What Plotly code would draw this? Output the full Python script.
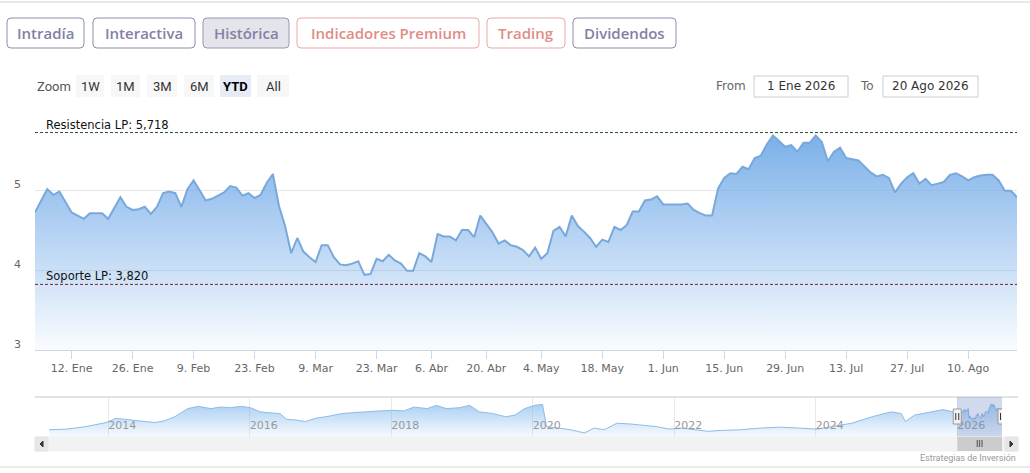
import plotly.graph_objects as go

W, H = 1030, 473

# cotizacion 2026 (YTD), dias de mercado
main_dates = [
    "2026-01-02", "2026-01-05", "2026-01-06", "2026-01-07", "2026-01-08", "2026-01-12", "2026-01-14", "2026-01-15",
    "2026-01-19", "2026-01-20", "2026-01-22", "2026-01-23", "2026-01-26", "2026-01-27", "2026-01-28", "2026-01-29", "2026-01-30",
    "2026-02-02", "2026-02-03", "2026-02-04", "2026-02-05", "2026-02-06", "2026-02-09", "2026-02-11", "2026-02-12",
    "2026-02-16", "2026-02-17", "2026-02-18", "2026-02-19", "2026-02-20", "2026-02-23", "2026-02-24", "2026-02-25", "2026-02-26", "2026-02-27",
    "2026-03-02", "2026-03-03", "2026-03-04", "2026-03-05", "2026-03-06", "2026-03-09", "2026-03-10", "2026-03-11", "2026-03-12", "2026-03-13",
    "2026-03-16", "2026-03-17", "2026-03-18", "2026-03-19", "2026-03-20", "2026-03-23", "2026-03-24", "2026-03-25", "2026-03-26", "2026-03-27",
    "2026-03-30", "2026-03-31",
    "2026-04-01", "2026-04-02", "2026-04-07", "2026-04-08", "2026-04-09", "2026-04-10", "2026-04-13", "2026-04-14", "2026-04-15", "2026-04-16",
    "2026-04-17", "2026-04-20", "2026-04-21", "2026-04-22", "2026-04-23", "2026-04-24", "2026-04-27", "2026-04-28", "2026-04-29", "2026-04-30",
    "2026-05-04", "2026-05-05", "2026-05-06", "2026-05-07", "2026-05-08", "2026-05-11", "2026-05-12", "2026-05-13", "2026-05-14", "2026-05-15",
    "2026-05-18", "2026-05-19", "2026-05-20", "2026-05-21", "2026-05-22", "2026-05-25", "2026-05-26", "2026-05-27", "2026-05-28", "2026-05-29",
    "2026-06-01", "2026-06-02", "2026-06-04", "2026-06-05", "2026-06-08", "2026-06-09", "2026-06-10", "2026-06-11", "2026-06-12", "2026-06-15",
    "2026-06-16", "2026-06-17", "2026-06-18", "2026-06-19", "2026-06-22", "2026-06-23", "2026-06-24", "2026-06-25", "2026-06-26", "2026-06-29", "2026-06-30",
    "2026-07-01", "2026-07-02", "2026-07-03", "2026-07-06", "2026-07-07", "2026-07-08", "2026-07-09", "2026-07-10", "2026-07-13", "2026-07-15",
    "2026-07-16", "2026-07-17", "2026-07-20", "2026-07-21", "2026-07-22", "2026-07-23", "2026-07-24", "2026-07-27", "2026-07-28", "2026-07-29",
    "2026-07-30", "2026-07-31",
    "2026-08-03", "2026-08-04", "2026-08-05", "2026-08-06", "2026-08-07", "2026-08-10", "2026-08-11", "2026-08-12", "2026-08-13", "2026-08-14",
    "2026-08-17", "2026-08-18", "2026-08-19", "2026-08-20",
]
main_prices = [
    4.72, 4.87, 5.01, 4.94, 4.98, 4.72, 4.64, 4.71,
    4.71, 4.64, 4.91, 4.79, 4.75, 4.76, 4.79, 4.70, 4.79,
    4.96, 4.98, 4.96, 4.79, 5.01, 5.12, 4.87, 4.89,
    4.97, 5.05, 5.03, 4.93, 4.96, 4.90, 4.94, 5.09, 5.20, 4.80,
    4.55, 4.21, 4.40, 4.23, 4.16, 4.10, 4.31, 4.31, 4.16, 4.07,
    4.06, 4.08, 4.11, 3.94, 3.95, 4.14, 4.11, 4.19, 4.12, 4.08,
    3.99, 3.99,
    4.21, 4.17, 4.10, 4.45, 4.42, 4.42, 4.37, 4.50, 4.50, 4.41,
    4.68, 4.57, 4.47, 4.33, 4.37, 4.31, 4.29, 4.25, 4.17, 4.28,
    4.14, 4.21, 4.49, 4.54, 4.42, 4.68, 4.55, 4.48, 4.40, 4.29,
    4.38, 4.35, 4.54, 4.50, 4.56, 4.73, 4.73, 4.87, 4.88, 4.92,
    4.82, 4.82, 4.82, 4.83, 4.75, 4.71, 4.68, 4.68, 5.02, 5.15,
    5.21, 5.20, 5.29, 5.26, 5.40, 5.43, 5.57, 5.68, 5.61, 5.54, 5.56,
    5.48, 5.59, 5.59, 5.68, 5.60, 5.36, 5.48, 5.53, 5.40, 5.37,
    5.29, 5.22, 5.17, 5.19, 5.15, 4.97, 5.08, 5.16, 5.21, 5.08,
    5.14, 5.06,
    5.08, 5.10, 5.19, 5.21, 5.17, 5.12, 5.16, 5.18, 5.19, 5.19,
    5.12, 4.99, 4.99, 4.91,
]

# historico para el navegador (2013-2025)
hist_dates = [
    "2013-03-01", "2013-06-01", "2013-09-10", "2013-12-20", "2014-02-10", "2014-04-20", "2014-06-25", "2014-09-01",
    "2014-10-20", "2014-12-10", "2015-02-15", "2015-04-10", "2015-06-15", "2015-08-05", "2015-09-25", "2015-11-15",
    "2016-01-05", "2016-02-25", "2016-04-15", "2016-06-05", "2016-07-10", "2016-08-25", "2016-10-15", "2016-12-05",
    "2017-02-15", "2017-04-20", "2017-06-28", "2017-09-01", "2017-11-10", "2018-01-02", "2018-03-08", "2018-04-28",
    "2018-07-05", "2018-08-22", "2018-10-12", "2018-12-20", "2019-02-10", "2019-04-01", "2019-06-08", "2019-08-15",
    "2019-10-02", "2019-11-20", "2020-01-12", "2020-02-21", "2020-03-12", "2020-05-10", "2020-07-15", "2020-09-25",
    "2020-11-12", "2021-01-05", "2021-03-10", "2021-05-15", "2021-07-22", "2021-09-28", "2021-12-05", "2022-02-10",
    "2022-04-18", "2022-06-25", "2022-09-01", "2022-12-10", "2023-03-22", "2023-07-01", "2023-10-10", "2024-01-05",
    "2024-03-28", "2024-07-05", "2024-10-18", "2025-01-25", "2025-03-18", "2025-04-08", "2025-05-25", "2025-08-15",
    "2025-10-20",
]
hist_prices = [
    2.90, 2.97, 3.25, 3.67, 4.13, 3.95, 3.78, 3.67,
    3.88, 4.30, 5.18, 5.42, 5.18, 5.35, 5.28, 5.42,
    5.28, 4.83, 4.72, 4.65, 4.02, 3.95, 3.78, 4.13,
    4.37, 4.65, 4.76, 4.83, 4.93, 5.00, 4.93, 5.35,
    5.18, 5.53, 5.18, 5.28, 5.53, 4.83, 4.65, 4.30,
    4.48, 5.18, 5.53, 5.63, 3.25, 3.08, 2.90, 2.55,
    3.08, 2.90, 3.60, 3.53, 3.43, 3.25, 2.97, 3.08,
    2.90, 2.73, 2.83, 2.90, 3.08, 3.18, 3.08, 2.97,
    3.25, 3.60, 4.30, 4.83, 4.65, 3.78, 4.48, 4.83,
    5.07,
]

resistencia = 5.718
soporte = 3.820

tick_dates = ["2026-01-12", "2026-01-26", "2026-02-09", "2026-02-23", "2026-03-09", "2026-03-23", "2026-04-07", "2026-04-20",
              "2026-05-04", "2026-05-18", "2026-06-01", "2026-06-15", "2026-06-29", "2026-07-13", "2026-07-27", "2026-08-10"]
tick_labels = ["12. Ene", "26. Ene", "9. Feb", "23. Feb", "9. Mar", "23. Mar", "6. Abr", "20. Abr",
               "4. May", "18. May", "1. Jun", "15. Jun", "29. Jun", "13. Jul", "27. Jul", "10. Ago"]
year_ticks = ["2014-01-01", "2016-01-01", "2018-01-01", "2020-01-01", "2022-01-01", "2024-01-01", "2026-01-01"]
year_labels = ["2014", "2016", "2018", "2020", "2022", "2024", "2026"]
holidays = ["2026-01-01", "2026-04-03", "2026-04-06", "2026-05-01"]


def X(px):
    return px / W


def Y(py):
    return 1 - py / H


def rounded(x0, y0, x1, y1, r=4):
    rx, ry = r / W, r / H
    a, b, c, d = X(x0), Y(y0), X(x1), Y(y1)
    return (f"M{a+rx},{b} L{c-rx},{b} Q{c},{b} {c},{b-ry} L{c},{d+ry} Q{c},{d} {c-rx},{d} "
            f"L{a+rx},{d} Q{a},{d} {a},{d+ry} L{a},{b-ry} Q{a},{b} {a+rx},{b} Z")


def label(text, px, py, font, xanchor="center"):
    return dict(text=text, x=X(px), y=Y(py), xref="paper", yref="paper", xanchor=xanchor, yanchor="middle",
                showarrow=False, font=font)


fig = go.Figure()

fig.add_trace(go.Scatter(
    x=main_dates, y=main_prices, mode="lines", fill="tozeroy",
    line=dict(color="#78a8dc", width=2),
    fillgradient=dict(type="vertical", start=3, stop=5.7,
                      colorscale=[[0, "rgba(120,174,233,0.04)"], [1, "rgba(120,174,233,0.98)"]]),
    hoverinfo="skip", xaxis="x", yaxis="y"))

fig.add_trace(go.Scatter(
    x=hist_dates + main_dates, y=hist_prices + main_prices, mode="lines", fill="tozeroy",
    line=dict(color="#8fbbe8", width=1),
    fillgradient=dict(type="vertical", start=2.12, stop=5.7,
                      colorscale=[[0, "rgba(124,181,236,0.05)"], [1, "rgba(124,181,236,0.65)"]]),
    hoverinfo="skip", xaxis="x2", yaxis="y2"))

shapes = []
annotations = []

# lineas de separacion de la pagina
shapes.append(dict(type="line", xref="paper", yref="paper", x0=0, x1=1, y0=Y(2), y1=Y(2), line=dict(color="#d0d0d0", width=1)))
shapes.append(dict(type="line", xref="paper", yref="paper", x0=0, x1=1, y0=Y(467), y1=Y(467), line=dict(color="#d6d6d6", width=1)))

# pestañas
purple, salmon = "#8480a5", "#e08d87"
tabs = [("Intradía", 7, 84, purple, "#908cab", "white"),
        ("Interactiva", 93, 195, purple, "#908cab", "white"),
        ("Histórica", 203, 289, purple, "#9a97b2", "#e4e4eb"),
        ("Indicadores Premium", 297, 479, salmon, "#e8a9a5", "white"),
        ("Trading", 487, 565, salmon, "#e8a9a5", "white"),
        ("Dividendos", 573, 676, purple, "#908cab", "white")]
for txt, x0, x1, tc, bc, bg in tabs:
    shapes.append(dict(type="path", path=rounded(x0, 18, x1, 48), xref="paper", yref="paper",
                       line=dict(color=bc, width=1), fillcolor=bg))
    annotations.append(label(txt, (x0 + x1) / 2, 33, dict(family="Open Sans", size=15, color=tc, weight=600)))

# selector de rango
narrow = "Liberation Sans Narrow, Roboto"
annotations.append(label("Zoom", 35, 86, dict(family=narrow, size=13, color="#555"), xanchor="left"))
zoom_btns = [("1W", 76, 104), ("1M", 111, 140), ("3M", 147, 177), ("6M", 184, 214), ("YTD", 220, 251), ("All", 257, 289)]
for txt, x0, x1 in zoom_btns:
    sel = txt == "YTD"
    shapes.append(dict(type="rect", xref="paper", yref="paper", x0=X(x0), x1=X(x1), y0=Y(97), y1=Y(75),
                       line=dict(width=0), fillcolor="#e6ebf5" if sel else "#f7f7f7"))
    annotations.append(label(f"<b>{txt}</b>" if sel else txt, (x0 + x1) / 2, 86,
                             dict(family=narrow, size=13, color="#000" if sel else "#333")))

annotations.append(label("From", 731, 86, dict(family="DejaVu Sans", size=12, color="#666")))
annotations.append(label("To", 867, 86, dict(family="DejaVu Sans", size=12, color="#666")))
for txt, x0, x1 in [("1 Ene 2026", 754, 848), ("20 Ago 2026", 883, 978)]:
    shapes.append(dict(type="rect", xref="paper", yref="paper", x0=X(x0), x1=X(x1), y0=Y(97), y1=Y(76),
                       line=dict(color="#cccccc", width=1), fillcolor="white"))
    annotations.append(label(txt, (x0 + x1) / 2, 86.5, dict(family="DejaVu Sans", size=12, color="#333")))

# soporte y resistencia
for lvl, col, txt in [(resistencia, "#24502c", "Resistencia LP: 5,718"), (soporte, "#7b1f35", "Soporte LP: 3,820")]:
    shapes.append(dict(type="line", xref="x domain", yref="y", x0=0, x1=1, y0=lvl, y1=lvl,
                       line=dict(color=col, width=1, dash="3px,2px")))
    annotations.append(dict(text=txt, x=X(44), xanchor="left", xref="paper", y=lvl, yref="y", yanchor="bottom",
                            yshift=-1, showarrow=False, font=dict(family="DejaVu Sans", size=11.5, color="#111")))

for v in [3, 4, 5]:
    annotations.append(dict(text=str(v), x=X(17), xref="paper", xanchor="center", y=v, yref="y", yanchor="middle",
                            yshift=6, showarrow=False, font=dict(family="DejaVu Sans", size=11, color="#666")))

# navegador: zona seleccionada y asas
shapes.append(dict(type="line", xref="paper", yref="paper", x0=X(35), x1=X(1018), y0=Y(397), y1=Y(397),
                   line=dict(color="#c8c8cc", width=1)))
shapes.append(dict(type="rect", xref="x2", yref="y2 domain", x0="2026-01-01", x1="2026-08-20", y0=0, y1=1,
                   line=dict(width=0), fillcolor="rgba(102,133,194,0.3)"))
for d in ["2026-01-01", "2026-08-20"]:
    shapes.append(dict(type="rect", xref="x2", xsizemode="pixel", xanchor=d, x0=-4, x1=4, yref="paper",
                       y0=Y(424), y1=Y(409), line=dict(color="#999", width=1), fillcolor="#f2f2f2"))
    for dx in (-1.5, 1.5):
        shapes.append(dict(type="line", xref="x2", xsizemode="pixel", xanchor=d, x0=dx, x1=dx, yref="paper",
                           y0=Y(420), y1=Y(413), line=dict(color="#333", width=1)))

# barra de desplazamiento
shapes.append(dict(type="rect", xref="paper", yref="paper", x0=X(35), x1=X(1018), y0=Y(451), y1=Y(437),
                   line=dict(color="#f2f2f2", width=1), fillcolor="#f2f2f2"))
shapes.append(dict(type="rect", xref="x2", yref="paper", x0="2026-01-01", x1="2026-08-20", y0=Y(451), y1=Y(437),
                   line=dict(width=0), fillcolor="#cccccc"))
for x0, x1 in [(35, 48), (1005, 1018)]:
    shapes.append(dict(type="rect", xref="paper", yref="paper", x0=X(x0), x1=X(x1), y0=Y(451), y1=Y(437),
                       line=dict(color="#e6e6e6", width=1), fillcolor="#e6e6e6"))
shapes.append(dict(type="path", xref="paper", yref="paper",
                   path=f"M{X(43)},{Y(441)} L{X(40)},{Y(444)} L{X(43)},{Y(447)} Z", fillcolor="#333", line=dict(color="#333", width=1)))
shapes.append(dict(type="path", xref="paper", yref="paper",
                   path=f"M{X(1010)},{Y(441)} L{X(1013)},{Y(444)} L{X(1010)},{Y(447)} Z", fillcolor="#333", line=dict(color="#333", width=1)))
annotations.append(dict(text="III", x="2026-04-26", xref="x2", xanchor="center", y=Y(444), yref="paper", yanchor="middle",
                        showarrow=False, font=dict(family="DejaVu Sans", size=8, color="#333")))

annotations.append(label("Estrategias de Inversión", 1018, 458, dict(family=narrow, size=9, color="#999"), xanchor="right"))

fig.update_layout(
    width=W, height=H, autosize=False,
    margin=dict(l=0, r=0, t=0, b=0),
    paper_bgcolor="white", plot_bgcolor="white",
    showlegend=False,
    shapes=shapes, annotations=annotations,
    xaxis=dict(domain=[X(35), X(1017)], type="date", range=["2026-01-02", "2026-08-20"],
               rangebreaks=[dict(bounds=["sat", "mon"]), dict(values=holidays)],
               tickvals=tick_dates, ticktext=tick_labels, ticks="outside", ticklen=8, tickcolor="#ccd6eb",
               showline=True, linecolor="#ccd6eb", showgrid=False, zeroline=False,
               tickfont=dict(family="DejaVu Sans", size=11, color="#666")),
    yaxis=dict(domain=[Y(350), Y(110)], range=[3, 6], tickvals=[4, 5, 6], showticklabels=False,
               showgrid=True, gridcolor="#e6e6e6", zeroline=False),
    xaxis2=dict(domain=[X(49), X(1002)], anchor="y2", type="date", range=["2013-03-01", "2026-08-20"],
                tickvals=year_ticks, ticktext=year_labels, ticklabelposition="inside right", ticks="",
                showgrid=True, gridcolor="#e9e9e9", showline=False, zeroline=False,
                tickfont=dict(family="DejaVu Sans", size=11, color="#999")),
    yaxis2=dict(domain=[Y(437), Y(397)], anchor="x2", range=[2.12, 6.43], showticklabels=False,
                showgrid=False, zeroline=False),
)

# sin margen del body para que la figura ocupe la ventana completa
fig.write_html("out.html", config={"displayModeBar": False},
               post_script="document.body.style.margin='0';")
